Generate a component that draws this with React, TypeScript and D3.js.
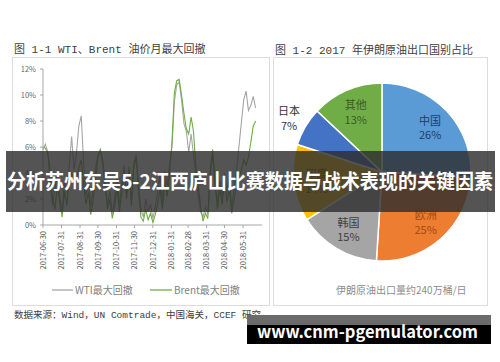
import * as d3 from 'd3';

// line chart: WTI / Brent monthly max drawdown (%), one reading every 4 days from 2017-06-30
const startDate = new Date(2017, 5, 30);
const stepDays = 4;
const wtiValues = [
  5.8, 6.2, 5.6, 3.2, 1.5, 2.8, 4.0, 2.2, 1.0, 3.4, 2.5, 4.6, 6.8, 4.2, 5.5, 7.6, 8.4, 4.8,
  2.2, 3.6, 1.4, 2.8, 4.4, 5.4, 5.8, 4.6, 3.0, 1.6, 2.6, 0.8, 2.2, 3.8, 1.5, 3.2, 4.6, 2.4,
  3.6, 1.8, 4.8, 5.4, 3.0, 1.2, 0.6, 2.0, 1.0, 1.6, 0.5, 1.4, 2.6, 3.8, 1.8, 4.2, 3.0, 4.6,
  6.0, 9.5, 10.8, 11.0, 9.6, 7.8, 7.2, 5.6, 7.0, 5.4, 3.6, 2.2, 1.0, 0.6, 1.4, 0.8, 3.8, 5.4,
  3.0, 1.8, 3.4, 2.2, 4.0, 2.6, 3.6, 1.4, 2.8, 4.2, 6.0, 7.8, 9.6, 10.3, 8.8, 9.2, 9.9, 9.0,
];
const brentValues = [
  6.0, 5.9, 5.5, 4.2, 2.0, 1.2, 3.0, 1.8, 0.6, 2.6, 1.5, 3.8, 4.0, 2.8, 3.5, 4.4, 5.0, 3.2,
  1.6, 2.5, 0.8, 1.9, 3.6, 5.2, 5.8, 5.0, 3.4, 1.2, 2.0, 0.5, 1.4, 2.9, 1.0, 2.6, 4.2, 2.0,
  4.5, 1.5, 4.4, 5.2, 2.6, 0.6, 0.3, 1.2, 0.4, 0.9, 0.2, 0.8, 1.6, 2.8, 1.2, 3.4, 2.2, 4.0,
  6.4, 10.2, 11.1, 11.2, 10.0, 8.6, 7.4, 7.0, 8.3, 7.2, 4.4, 3.0, 1.4, 0.3, 0.9, 0.5, 4.2, 5.8,
  3.6, 1.2, 2.8, 1.6, 3.4, 1.8, 2.8, 0.9, 2.0, 3.0, 3.6, 4.2, 5.0, 4.6, 5.2, 6.4, 7.6, 8.0,
];
const tickLabels = [
  '2017-06-30', '2017-07-31', '2017-08-31', '2017-09-30', '2017-10-31', '2017-11-30',
  '2017-12-31', '2018-01-31', '2018-02-28', '2018-03-31', '2018-04-30', '2018-05-31',
];
const yTicks = [0, 2, 4, 6, 8, 10, 12];

// pie chart: 2017 Iran crude export share by destination
const countries = ['中国', '欧洲', '韩国', '印度', '日本', '其他'];
const shares = [26, 25, 15, 14, 7, 13];
const sliceColors = ['#5b9bd5', '#ed7d31', '#a5a5a5', '#ffc000', '#4472c4', '#70ad47'];
const labelColors = ['#1f3d66', '#a34a12', '#3f3f3f', '#6b5200', '#333333', '#3a5c24'];

const serif = "'Liberation Mono', 'Noto Sans CJK SC', monospace";
const sans = "'Noto Sans CJK SC', 'Noto Sans', sans-serif";

export default function App() {
  const parse = d3.timeParse('%Y-%m-%d');
  const x = d3
    .scaleTime()
    .domain([startDate, new Date(2018, 5, 25)])
    .range([43, 258]);
  const y = d3.scaleLinear().domain([0, 12]).range([225, 69]);

  const dateAt = (i: number) => d3.timeDay.offset(startDate, i * stepDays);
  const line = d3
    .line<number>()
    .x((_, i) => x(dateAt(i)))
    .y((d) => y(d));

  const pie = d3
    .pie<number>()
    .sort(null)
    .value((d) => d)(shares);
  const cx = 382;
  const cy = 172;
  const arc = d3.arc<d3.PieArcDatum<number>>().innerRadius(0).outerRadius(89);
  const labelArc = d3.arc<d3.PieArcDatum<number>>().innerRadius(66).outerRadius(66);
  const outerLabelArc = d3.arc<d3.PieArcDatum<number>>().innerRadius(108).outerRadius(108);

  return (
    <div style={{ position: 'absolute', left: 0, top: 0 }}>
      <svg width={500} height={362} style={{ display: 'block', background: '#fff' }}>
        {/* frames */}
        <rect x={12.5} y={57.5} width={257} height={248} fill="none" stroke="#dcdcdc" />
        <rect x={273.5} y={57.5} width={214} height={248} fill="none" stroke="#dcdcdc" />

        {/* titles */}
        <text x={14} y={53} fontSize={11} fontFamily={serif} fill="#404040">
          图 1-1 WTI、Brent 油价月最大回撤
        </text>
        <text x={275} y={54} fontSize={11} fontFamily={serif} fill="#404040">
          图 1-2 2017 年伊朗原油出口国别占比
        </text>

        {/* y axis */}
        <line x1={43} x2={43} y1={y(12)} y2={y(0)} stroke="#a6a6a6" />
        {yTicks.map((t) => (
          <g key={t}>
            <line x1={40} x2={43} y1={y(t)} y2={y(t)} stroke="#a6a6a6" />
            <text x={36} y={y(t)} dy="0.35em" textAnchor="end" fontSize={7.5} fontFamily={sans} fill="#666">
              {t}%
            </text>
          </g>
        ))}

        {/* x axis */}
        <line x1={43} x2={262} y1={y(0)} y2={y(0)} stroke="#a6a6a6" />
        {tickLabels.map((s) => {
          const tx = x(parse(s)!);
          return (
            <g key={s}>
              <line x1={tx} x2={tx} y1={225} y2={228} stroke="#a6a6a6" />
              <text
                transform={`translate(${tx},231) rotate(-90)`}
                textAnchor="end"
                dy="0.35em"
                fontSize={7.5}
                fontFamily={sans}
                fill="#555"
              >
                {s}
              </text>
            </g>
          );
        })}

        {/* lines */}
        <path d={line(wtiValues)!} fill="none" stroke="#a5a5a5" strokeWidth={1.1} />
        <path d={line(brentValues)!} fill="none" stroke="#70ad47" strokeWidth={1.1} />

        {/* legend */}
        <line x1={52} x2={73} y1={290} y2={290} stroke="#a5a5a5" strokeWidth={1.3} />
        <text x={75} y={290} dy="0.35em" fontSize={10} fontFamily={sans} fill="#7f7f7f">
          WTI最大回撤
        </text>
        <line x1={150} x2={172} y1={290} y2={290} stroke="#70ad47" strokeWidth={1.3} />
        <text x={174} y={290} dy="0.35em" fontSize={10} fontFamily={sans} fill="#7f7f7f">
          Brent最大回撤
        </text>

        {/* pie */}
        <g transform={`translate(${cx},${cy})`}>
          {pie.map((p, i) => (
            <path key={countries[i]} d={arc(p)!} fill={sliceColors[i]} stroke="#fff" strokeWidth={1.5} />
          ))}
          {pie.map((p, i) => {
            const [lx, ly] = (countries[i] === '日本' ? outerLabelArc : labelArc).centroid(p);
            return (
              <text key={countries[i]} x={lx} y={ly} textAnchor="middle" fontSize={11} fontFamily={sans} fill={labelColors[i]}>
                <tspan x={lx} dy="-0.2em">{countries[i]}</tspan>
                <tspan x={lx} dy="1.35em">{shares[i]}%</tspan>
              </text>
            );
          })}
        </g>
        <text x={336} y={290} dy="0.35em" fontSize={10} fontFamily={sans} fill="#8c8c8c">
          伊朗原油出口量约240万桶/日
        </text>

        {/* source */}
        <text x={14} y={318} fontSize={9.5} fontFamily={serif} fill="#404040">
          数据来源：Wind，UN Comtrade，中国海关，CCEF 研究
        </text>

        {/* banner overlay */}
        <rect x={6} y={151} width={489} height={61} fill="#2e2e2e" opacity={0.82} />
        <text
          x={7}
          y={182}
          dy="0.36em"
          fontSize={20}
          fontWeight="bold"
          fontFamily={sans}
          fill="#fff"
          textLength={486}
          lengthAdjust="spacingAndGlyphs"
        >
          分析苏州东吴5-2江西庐山比赛数据与战术表现的关键因素
        </text>

        {/* watermark */}
        <rect x={247} y={315} width={244} height={10} fill="#6b6b6b" />
        <rect x={247} y={325} width={244} height={19} fill="#000" />
        <text
          x={257}
          y={332}
          dy="0.36em"
          fontSize={17}
          fontWeight="bold"
          fontFamily={sans}
          fill="#fff"
          textLength={221}
          lengthAdjust="spacingAndGlyphs"
        >
          www.cnm-pgemulator.com
        </text>
      </svg>
    </div>
  );
}
